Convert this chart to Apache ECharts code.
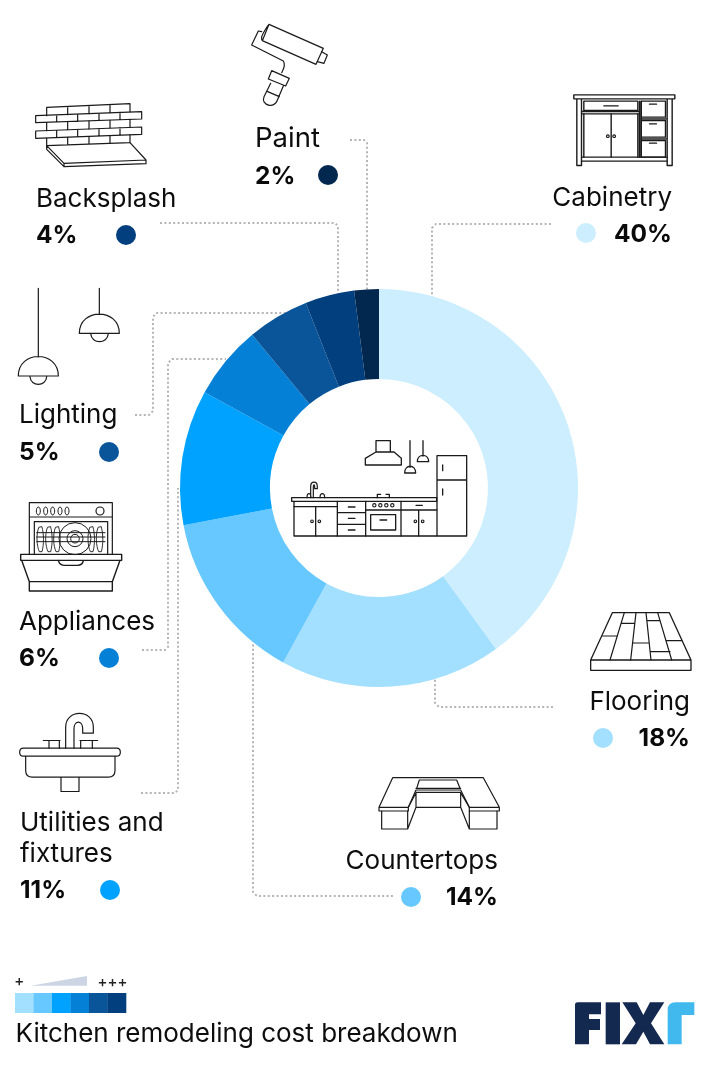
<!DOCTYPE html>
<html><head><meta charset="utf-8">
<style>html,body{margin:0;padding:0;background:#fff}#c{width:710px;height:1069px}</style>
<script src="https://cdn.jsdelivr.net/npm/echarts@6/dist/echarts.min.js"></script>
</head><body><div id="c"></div>
<script>
const categories = ['Cabinetry','Flooring','Countertops','Utilities and\nfixtures','Appliances','Lighting','Backsplash','Paint'];
const values = [40,18,14,11,6,5,4,2];
const colors = ['#cceeff','#a3dfff','#66c8ff','#00a2ff','#0480d6','#0a5599','#023f7f','#03284f'];
const scaleColors = ['#a3dfff','#66c8ff','#00a2ff','#0480d6','#0a5599','#023f7f'];
const title = 'Kitchen remodeling cost breakdown';

const FONT = 'Inter, "Noto Sans", sans-serif';
const INK = '#1a1a1a';
const g = [];
let shapeId = 0;

function P(ox, oy, d, lw, fill) {
  let i = 0;
  const pd = d.replace(/-?\d+(\.\d+)?/g, n => {
    const v = (+n) / 3 + (i++ % 2 === 0 ? ox : oy);
    return v.toFixed(2);
  });
  const name = 'iconPath' + (shapeId++);
  echarts.graphic.registerShape(name, echarts.graphic.extendPath(pd, {}));
  g.push({type:name, silent:true, z:5,
    style:{fill:fill||'none', stroke:lw===0?null:INK, lineWidth:lw===undefined?1.2:lw, lineJoin:'round', lineCap:'round'}});
}
function O(ox, oy, cx, cy, r, lw, ry) {
  g.push({type:'ellipse', shape:{cx:cx/3+ox, cy:cy/3+oy, rx:r/3, ry:(ry||r)/3},
    style:{fill:'#fff', stroke:INK, lineWidth:lw||1.2}, silent:true, z:6});
}
function T(text, x, y, o) {
  g.push({type:'text', x, y, z:8, silent:true, style:Object.assign({
    text, font:'400 26px '+FONT, fill:'#0d0d0d', textAlign:'left', textVerticalAlign:'middle'}, o||{})});
}
function L(pts) {
  g.push({type:'polyline', shape:{points:pts}, z:1, silent:true,
    style:{fill:'none', stroke:'#b5b5b5', lineWidth:2, lineDash:[2,2.4], lineCap:'butt'}});
}
function label(idx, nameX, nameY, pctY, dotX, dotY, right, size) {
  const align = right ? 'right' : 'left';
  const lines = categories[idx].split('\n');
  lines.forEach((s, i) => T(s, nameX, nameY + i*31, {textAlign:align, font:'400 '+(size||26)+'px '+FONT}));
  T(values[idx]+'%', nameX, pctY, {textAlign:align, font:'700 24.5px '+FONT, fill:'#0a0a0a'});
  g.push({type:'circle', shape:{cx:dotX, cy:dotY, r:10}, style:{fill:colors[idx]}, z:8, silent:true});
}

label(0, 672, 198, 234.5, 586, 233, true);
label(1, 690, 702, 738.5, 603, 738, true);
label(2, 498, 861, 897.5, 411, 897, true);
label(3, 20, 823, 890.5, 110, 890, false);
label(4, 19, 622, 658.5, 109, 658, false);
label(5, 19, 415, 452.5, 109, 452, false);
label(6, 36, 199, 235.5, 126, 235, false);
label(7, 255, 139, 176.5, 328, 175, false, 27.5);

// leader lines
L([[350,140],[364,140],[367,143],[367,290]]);
L([[160,223],[335,223],[338,226],[338,296]]);
L([[551,224],[436,224],[432,228],[432,298]]);
L([[135,415],[149,415],[153,411],[153,317],[156,313],[286,313]]);
L([[142,650],[165,650],[168,647],[168,363],[172,359],[226,359]]);
L([[141,793],[175,793],[178,790],[178,488]]);
L([[253,640],[253,892],[257,896],[395,896]]);
L([[553,707],[439,707],[435,703],[435,678]]);

// paint roller
P(0,0,'M807,73 L970,145 L948,193 L787,122 Z M787,122 L785,118 Q783,112 787,105 Q800,80 807,73',1.2);
P(0,0,'M965,155 L982,165 L972,190 L952,185 M785,95 L775,93 L755,135 L850,183 Q858,195 845,218',1.2);
P(0,0,'M815,212 L868,235 L857,258 L805,237 Z M812,250 L792,290 Q785,310 808,316 Q822,318 830,305 L850,258 M803,275 L838,290',1.2);

// bricks
P(0,0,'M140,322 L390,311 L390,335 M140,322 L140,347 M203,320 L203,344 M267,317 L267,341 M330,314 L330,338',1.2);
P(0,0,'M107,347 L425,335 L425,357 L107,368 Z M170,345 L170,366 M233,342 L233,364 M297,340 L297,361 M360,337 L360,359',1.2);
P(0,0,'M140,368 L140,392 M390,358 L390,381 M203,365 L203,389 M267,363 L267,387 M330,361 L330,384',1.2);
P(0,0,'M107,393 L425,381 L425,403 L107,415 Z M170,391 L170,412 M233,388 L233,410 M297,386 L297,407 M360,383 L360,405',1.2);
P(0,0,'M140,415 L140,437 L390,428 L390,405 M203,412 L203,434 M267,410 L267,432 M330,407 L330,430',1.2);
P(0,0,'M140,437 L192,490 L438,480 L390,428 M140,437 L140,448 L192,500 L438,491 L438,480 M192,490 L192,500',1.2);

// lamps
P(0,281,'M115,22 L115,228 M55,285 C55,207 175,207 175,285 Z M90,287 C92,318 138,318 140,287',1.2);
P(0,281,'M298,22 L298,100 M238,157 C238,80 358,80 358,157 Z M272,158 C275,190 322,190 325,158',1.2);

// dishwasher
P(0,281,'M88,820 L88,665 L337,665 L337,820 M88,708 L337,708 M103,820 L103,722 L323,722 L323,820',1.2);
[115,137,158,180,201].forEach(x => O(0,281,x,690,6,1,12));
O(0,281,300,690,12);
[122,148,172,275,300].forEach(x => P(0,281,`M${x-6},740 C${x-14},760 ${x-12},795 ${x-4},812 L${x+4},812 C${x+10},790 ${x+10},760 ${x+4},738 Z`,0.9));
[48,24,13].forEach(r => g.push({type:'circle', shape:{cx:75, cy:281+773/3, r:r/3}, style:{fill:'none', stroke:INK, lineWidth:1}, silent:true, z:6}));
P(0,281,'M110,755 L315,755 M110,768 L315,768 M110,782 L315,782',1);
P(0,281,'M62,820 L365,820 L365,838 L62,838 Z M65,838 L88,902 L88,930 L337,930 L337,902 L360,838 M88,902 L337,902 M175,838 Q178,853 195,853 L232,853 Q248,853 250,838',1.4);

// sink
P(0,690.5,'M70,173 L350,173 Q361,173 361,185 Q361,197 350,197 L70,197 Q59,197 59,185 Q59,173 70,173 Z M77,197 L77,240 Q77,260 97,260 L325,260 Q345,260 345,240 L345,197 M183,260 L183,303 L237,303 L237,260',1.2);
P(0,690.5,'M197,173 L197,110 C197,55 280,55 280,110 L280,128 L248,128 L248,115 C248,88 222,88 222,115 L222,173',1.2);
P(0,690.5,'M130,150 L180,150 M147,150 L147,173 M178,150 L178,173 M240,150 L293,150 M242,150 L242,173 M277,150 L277,173',1.2);

// cabinet
const CAB=[540.5,80.5];
P(CAB[0],CAB[1],'M100,43 L403,43 L403,55 L100,55 Z M109,55 L109,255 L123,255 L123,55 M380,55 L380,255 L395,255 L395,55',1.4);
P(CAB[0],CAB[1],'M123,230 L380,230 M123,242 L380,242 M130,62 L292,62 L292,90 L130,90 Z M190,76 L233,76 M125,93 L297,93 M125,100 L297,100',1.4);
P(CAB[0],CAB[1],'M130,100 L130,230 M292,100 L292,230 M212,100 L212,230 M297,62 L297,230 M302,62 L302,230',1.4);
P(CAB[0],CAB[1],'M302,62 L375,62 L375,110 L302,110 Z M327,71 L348,71 M302,120 L375,120 L375,170 L302,170 Z M327,130 L348,130 M302,180 L375,180 L375,230 L302,230 Z M327,188 L348,188 M297,115 L378,115 M297,175 L378,175',1.4);
O(CAB[0],CAB[1],202,167,4,1.2); O(CAB[0],CAB[1],221,167,4,1.2);

// flooring
P(360,600,'M757,38 L928,38 L993,180 L692,180 Z M692,180 L692,211 L993,211 L993,180',1.3);
P(360,600,'M793,38 L750,180 M828,38 L812,180 M858,38 L873,180 M893,38 L935,180 M728,108 L770,108 M785,70 L822,70 M820,129 L866,129 M862,62 L898,62 M873,155 L930,155 M918,122 L965,122',1.2);

// countertops
P(360,600,'M98,533 L370,533 L418,622 L328,622 L302,570 L168,570 L145,622 L57,622 Z M57,622 L57,633 L145,633 L145,622 M328,622 L328,633 L418,633 L418,622',1.2);
P(360,600,'M65,633 L65,687 L143,687 L143,633 M328,633 L328,687 L411,687 L411,633 M168,578 L168,622 L302,622 L302,578 M168,565 L302,565 M168,577 L302,577 M170,565 L178,540 L290,540 L300,565 M143,687 L168,622 M145,622 L168,578 M328,687 L302,622 M328,622 L302,578',1.2);

// kitchen in the centre
const KX=280, KY=430;
P(KX,KY,'M35,203 L470,203 L470,214 L35,214 Z M42,214 L42,318 L470,318',1.3);
P(KX,KY,'M107,232 L107,318 M172,214 L172,318 M257,214 L257,318 M363,214 L363,318 M416,240 L416,318 M42,230 L172,230 M172,248 L257,248 M172,283 L257,283 M257,240 L470,240',1.3);
P(KX,KY,'M205,231 L225,231 M205,265 L225,265 M205,300 L225,300 M408,226 L427,226 M300,270 L320,270 M272,254 L347,254 L347,300 L272,300 Z M292,203 L292,193 L302,193 M318,193 L328,193 L328,203',1.3);
[283,301,319,337].forEach(x => O(KX,KY,x,226,5,1.1));
[96,118,406,428].forEach(x => O(KX,KY,x,274,4,1.1));
P(KX,KY,'M471,77 L560,77 L560,318 L471,318 Z M471,150 L560,150 M488,105 L488,122 M488,177 L488,195',1.3);
P(KX,KY,'M288,66 L288,32 L331,32 L331,66 M288,66 L342,66 L364,85 L364,105 L256,105 L256,85 Z',1.3);
P(KX,KY,'M390,32 L390,112 M374,129 C374,102 407,102 407,129 Z M429,32 L429,78 M412,95 C412,70 446,70 446,95 Z',1.3);
P(KX,KY,'M92,203 L92,170 C92,152 112,152 112,170 L112,176 L104,176 L104,170 C104,163 100,163 100,170 L100,203 M81,203 C81,187 93,187 93,203 M120,203 C120,187 134,187 134,203',1.2);

// scale legend
g.push({type:'polygon', shape:{points:[[30.7,985.7],[87,976],[87,985.7]]}, style:{fill:'#cbd5e3'}, silent:true});
T('+', 19.3, 981.5, {font:'500 15px '+FONT, textAlign:'center', fill:'#222'});
T('+++', 112.5, 982.5, {font:'500 15px '+FONT, textAlign:'center', fill:'#222'});
scaleColors.forEach((c,i) => g.push({type:'rect', shape:{x:15+i*18.5, y:993, width:18.5+0.3, height:20}, style:{fill:c}, silent:true}));
T(title, 15.5, 1034, {font:'400 26px '+FONT});

// logo
P(565,995,'M38,22 L108,22 L108,58 L72,58 L72,72 L105,72 L105,105 L72,105 L72,148 L30,148 L30,30 Q30,22 38,22 Z',0,'#14294f');
P(565,995,'M122,22 L165,22 L165,148 L122,148 Z',0,'#14294f');
P(565,995,'M172,22 L215,22 L235,60 L255,22 L298,22 L258,85 L298,148 L255,148 L235,110 L213,148 L170,148 L212,85 Z',0,'#14294f');
P(565,995,'M308,148 L308,45 Q308,22 332,22 L388,22 L388,60 L350,60 L350,148 Z',0,'#41b9ee');

const chart = echarts.init(document.getElementById('c'), null, {renderer:'canvas', width:710, height:1069});
chart.setOption({
  animation:false,
  backgroundColor:'#ffffff',
  series:[{
    type:'pie', center:[379,488], radius:[109,199], startAngle:90, clockwise:true, z:3,
    silent:true, label:{show:false}, labelLine:{show:false},
    data: categories.map((n,i)=>({name:n, value:values[i], itemStyle:{color:colors[i]}}))
  }],
  graphic:{elements:g}
});
</script></body></html>
